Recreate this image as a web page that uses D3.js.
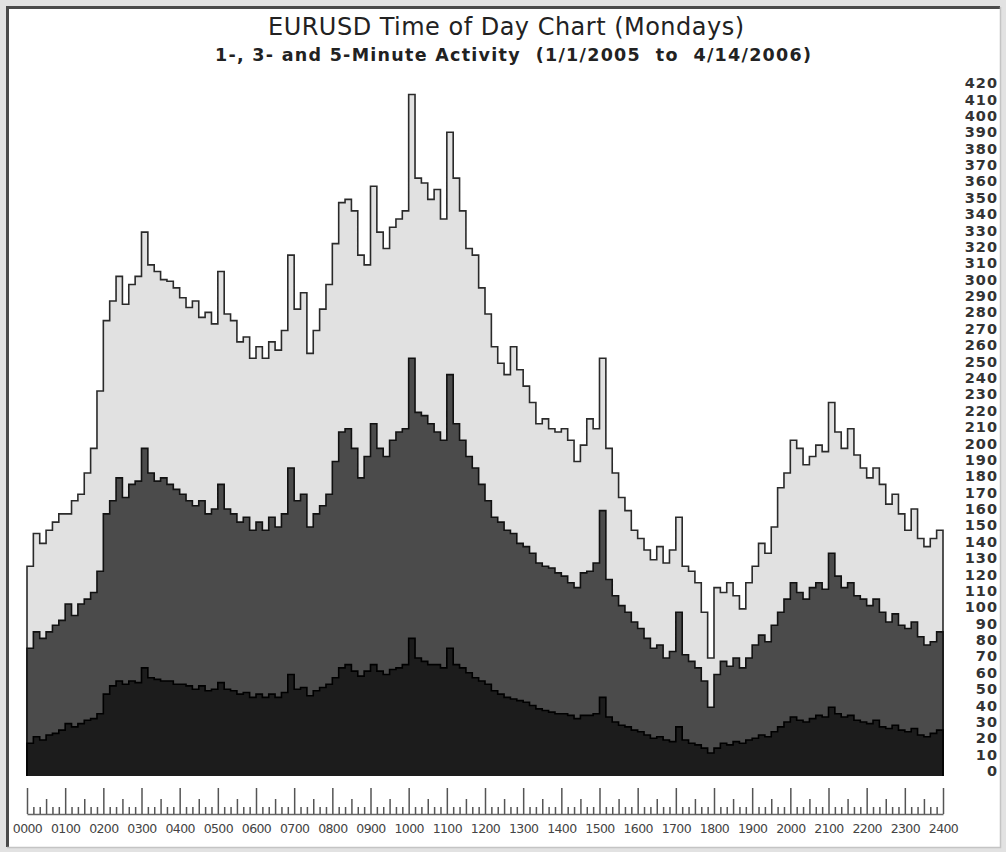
<!DOCTYPE html>
<html>
<head>
<meta charset="utf-8">
<script src="https://cdn.jsdelivr.net/npm/d3@7"></script>
<style>
  body { margin: 0; background: #fff; }
  svg { display: block; }
</style>
</head>
<body>
<div id="chart"></div>
<script>
// activity counts per 10-minute slot, Mondays, 0000..2350
var fiveMin = [
    128, 148, 142, 150, 155, 160,
    160, 168, 172, 185, 200, 235,
    278, 290, 305, 288, 300, 305,
    332, 312, 308, 303, 302, 298,
    292, 286, 290, 280, 283, 276,
    308, 282, 278, 265, 268, 255,
    262, 255, 265, 260, 272, 318,
    285, 295, 258, 272, 285, 300,
    325, 350, 352, 345, 318, 312,
    360, 332, 322, 335, 340, 345,
    416, 365, 362, 352, 358, 340,
    393, 365, 345, 322, 318, 298,
    282, 262, 252, 245, 262, 248,
    238, 228, 215, 218, 212, 210,
    212, 205, 192, 202, 218, 212,
    255, 200, 185, 170, 162, 150,
    145, 138, 132, 140, 130, 138,
    158, 128, 125, 118, 100, 72,
    115, 112, 118, 110, 102, 118,
    128, 142, 136, 152, 176, 185,
    205, 200, 190, 195, 202, 198,
    228, 210, 200, 212, 196, 188,
    182, 188, 178, 166, 172, 160,
    150, 163, 145, 140, 145, 150
];

var threeMin = [
    78, 88, 84, 88, 92, 95,
    105, 98, 105, 108, 112, 125,
    160, 168, 182, 170, 178, 180,
    200, 185, 180, 182, 178, 175,
    172, 168, 165, 168, 160, 163,
    178, 163, 160, 155, 158, 150,
    155, 150, 158, 152, 160, 188,
    168, 172, 152, 160, 165, 172,
    192, 210, 212, 200, 182, 195,
    215, 200, 195, 205, 210, 212,
    255, 222, 220, 215, 210, 205,
    245, 215, 205, 195, 188, 178,
    168, 158, 155, 150, 148, 142,
    140, 136, 130, 128, 127, 124,
    122, 118, 115, 124, 125, 130,
    162, 120, 110, 104, 100, 94,
    90, 84, 78, 80, 72, 76,
    100, 74, 70, 66, 58, 42,
    62, 70, 67, 72, 66, 72,
    80, 86, 82, 92, 100, 108,
    118, 112, 108, 115, 118, 114,
    136, 122, 115, 118, 110, 108,
    104, 108, 100, 94, 99, 92,
    90, 94, 85, 80, 82, 88
];

var oneMin = [
    20, 24, 22, 25, 26, 28,
    32, 30, 32, 34, 35, 38,
    50, 55, 58, 56, 58, 57,
    66, 60, 59, 58, 58, 56,
    56, 55, 53, 55, 52, 53,
    57, 53, 52, 50, 51, 48,
    50, 48, 50, 48, 51, 62,
    53, 54, 49, 52, 54, 56,
    60, 66, 68, 64, 61, 64,
    68, 64, 62, 65, 66, 68,
    84, 72, 70, 68, 68, 66,
    78, 68, 66, 63, 60, 58,
    56, 52, 50, 48, 47, 46,
    45, 43, 41, 40, 39, 38,
    38, 37, 35, 37, 37, 38,
    48, 36, 33, 31, 30, 28,
    27, 25, 23, 24, 22, 21,
    30, 22, 20, 19, 17, 14,
    17, 20, 19, 21, 20, 22,
    23, 25, 24, 27, 30, 33,
    36, 34, 33, 35, 37, 36,
    42, 38, 36, 37, 34, 33,
    32, 34, 30, 29, 31, 28,
    27, 29, 25, 24, 26, 28
];

var hourLabels = ['0000','0100','0200','0300','0400','0500','0600','0700','0800','0900','1000','1100',
    '1200','1300','1400','1500','1600','1700','1800','1900','2000','2100','2200','2300','2400'];

var yTicks = d3.range(0, 421, 10);

var seriesList = [
    {values: fiveMin, fill: '#e1e1e1', stroke: '#2a2a2a'},
    {values: threeMin, fill: '#4b4b4b', stroke: '#111'},
    {values: oneMin, fill: '#1c1c1c', stroke: '#000'}
];

var W = 1006, H = 852;
var plot = {left: 27, right: 943, top: 88, bottom: 776};

var svg = d3.select('#chart').append('svg')
    .attr('width', W)
    .attr('height', H)
    .style('font-family', '"DejaVu Sans", Verdana, sans-serif');

// sunken frame
svg.append('rect').attr('width', W).attr('height', H).attr('fill', '#e2e2e2');
svg.append('rect').attr('x', 7).attr('y', 7).attr('width', 993).attr('height', 840).attr('fill', '#fff');
svg.append('path')
    .attr('d', 'M7.5,847V7.5H1000')
    .attr('fill', 'none').attr('stroke', '#4a4a4a').attr('stroke-width', 3);
svg.append('path')
    .attr('d', 'M1000.5,7V847.5H7')
    .attr('fill', 'none').attr('stroke', '#c4c4c4').attr('stroke-width', 1.5);

var xScale = d3.scaleLinear()
    .domain([0, 1440])
    .range([plot.left, plot.right]);

var yScale = d3.scaleLinear()
    .domain([0, 420])
    .range([plot.bottom, plot.top]);

// step outline: vertical at 0000, one step per slot, drop at 2400
function toPoints(values) {
    var pts = [[0, 0]];
    values.forEach((v, i) => pts.push([i * 10, v]));
    pts.push([1440, values[values.length - 1]]);
    pts.push([1440, 0]);
    return pts;
}

var area = d3.area()
    .x(d => xScale(d[0]))
    .y0(yScale(0))
    .y1(d => yScale(d[1]))
    .curve(d3.curveStepAfter);

var line = d3.line()
    .x(d => xScale(d[0]))
    .y(d => yScale(d[1]))
    .curve(d3.curveStepAfter);

seriesList.forEach(s => {
    var pts = toPoints(s.values);
    svg.append('path')
        .datum(pts)
        .attr('d', area)
        .attr('fill', s.fill);
    svg.append('path')
        .datum(pts)
        .attr('d', line)
        .attr('fill', 'none')
        .attr('stroke', s.stroke)
        .attr('stroke-width', 1.6)
        .attr('stroke-linejoin', 'miter');
});

// y labels on the right, no axis line
var yAxis = d3.axisLeft(yScale)
    .tickValues(yTicks)
    .tickSize(0)
    .tickPadding(0);

svg.append('g')
    .attr('transform', 'translate(998, -5)')
    .call(yAxis)
    .call(g => g.select('.domain').remove())
    .call(g => g.selectAll('text')
        .attr('font-family', '"DejaVu Sans", Verdana, sans-serif')
        .attr('font-size', 14.5)
        .attr('font-weight', 'bold')
        .attr('letter-spacing', 1)
        .attr('fill', '#333'));

// time ruler: ticks every 10 minutes, rising from the baseline
var axisY = 814;
var xTicks = d3.range(0, 1441, 10);

var xAxis = d3.axisTop(xScale)
    .tickValues(xTicks)
    .tickSizeOuter(0)
    .tickFormat('');

svg.append('g')
    .attr('transform', `translate(0, ${axisY})`)
    .call(xAxis)
    .call(g => g.select('.domain').attr('stroke', '#666').attr('stroke-width', 1.5))
    .call(g => g.selectAll('.tick line')
        .attr('stroke', '#555')
        .attr('stroke-width', 1.5)
        .attr('y2', d => d % 60 == 0 ? -26 : (d % 30 == 0 ? -15 : -7)));

var labelAxis = d3.axisBottom(xScale)
    .tickValues(d3.range(0, 1441, 60))
    .tickSize(0)
    .tickPadding(10)
    .tickFormat((d, i) => hourLabels[i]);

svg.append('g')
    .attr('transform', `translate(0, ${axisY})`)
    .call(labelAxis)
    .call(g => g.select('.domain').remove())
    .call(g => g.selectAll('text')
        .attr('font-family', '"DejaVu Sans", Verdana, sans-serif')
        .attr('font-size', 12.5)
        .attr('letter-spacing', -0.6)
        .attr('fill', '#444'));

// titles
svg.append('text')
    .attr('x', 506).attr('y', 35)
    .attr('text-anchor', 'middle')
    .attr('font-size', 24)
    .attr('fill', '#222')
    .attr('textLength', 476)
    .text('EURUSD Time of Day Chart (Mondays)');

svg.append('text')
    .attr('x', 513).attr('y', 61)
    .attr('text-anchor', 'middle')
    .attr('font-size', 17.5)
    .attr('font-weight', 'bold')
    .attr('fill', '#222')
    .attr('textLength', 596)
    .style('white-space', 'pre')
    .text('1-, 3- and 5-Minute Activity  (1/1/2005  to  4/14/2006)');
</script>
</body>
</html>
